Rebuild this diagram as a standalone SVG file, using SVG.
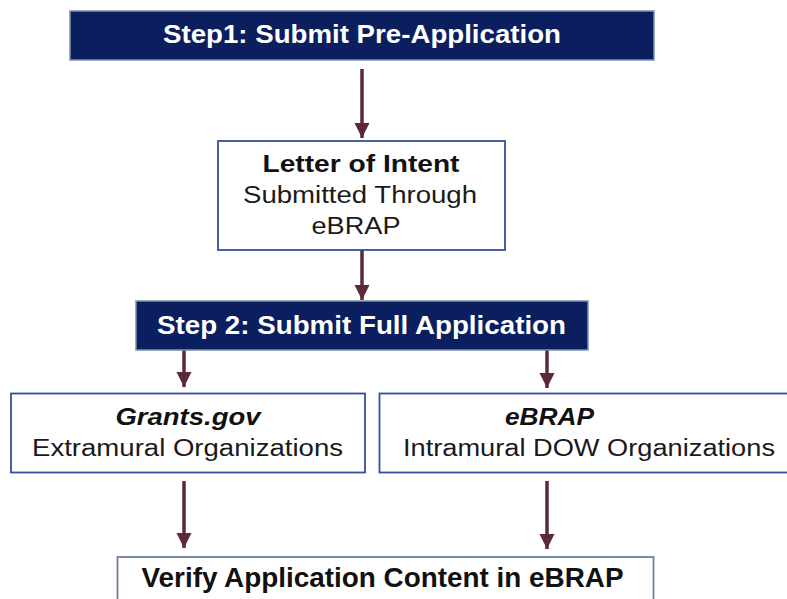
<svg xmlns="http://www.w3.org/2000/svg" width="787" height="599" viewBox="0 0 787 599">
<style>
.step{fill:#0B1F5E;stroke:#8090AA;stroke-width:1.5}
.box{fill:#ffffff;stroke:#35509A;stroke-width:1.8}
.gbox{fill:#ffffff;stroke:#6E7E9C;stroke-width:1.8}
.t{font-family:"Liberation Sans",Arial,sans-serif;text-anchor:middle}
.w{fill:#ffffff;font-weight:bold;font-size:25px}
.b{fill:#111111;font-weight:bold;font-size:23.5px}
.bi{fill:#111111;font-weight:bold;font-style:italic;font-size:23.5px}
.n{fill:#1a1a1a;font-size:23px}
.v{fill:#111111;font-weight:bold;font-size:27px}
.conn line{stroke:#5C2A36;stroke-width:3.5}
</style>
<defs>
<marker id="ah" markerUnits="userSpaceOnUse" markerWidth="16" markerHeight="16" viewBox="0 0 16 16" refX="15" refY="8" orient="auto">
<path d="M0,0.5 L15,8 L0,15.5 z" fill="#5C2A36"/>
</marker>
</defs>
<rect width="787" height="599" fill="#ffffff"/>
<g id="connectors" class="conn">
<line x1="362" y1="69" x2="362" y2="138" marker-end="url(#ah)"/>
<line x1="362" y1="250" x2="362" y2="300" marker-end="url(#ah)"/>
<line x1="184" y1="350" x2="184" y2="387" marker-end="url(#ah)"/>
<line x1="547" y1="350" x2="547" y2="388" marker-end="url(#ah)"/>
<line x1="184" y1="481" x2="184" y2="548" marker-end="url(#ah)"/>
<line x1="547" y1="481" x2="547" y2="549" marker-end="url(#ah)"/>
</g>
<g id="step1">
<rect class="step" x="70" y="11" width="584" height="49"/>
<text class="t w" x="362" y="43" textLength="398" lengthAdjust="spacingAndGlyphs">Step1: Submit Pre-Application</text>
</g>
<g id="letter-of-intent">
<rect class="box" x="218" y="141" width="287" height="109"/>
<text class="t b" x="361" y="171.5" textLength="197" lengthAdjust="spacingAndGlyphs">Letter of Intent</text>
<text class="t n" x="360" y="203" textLength="234" lengthAdjust="spacingAndGlyphs">Submitted Through</text>
<text class="t n" x="356" y="234" textLength="89" lengthAdjust="spacingAndGlyphs">eBRAP</text>
</g>
<g id="step2">
<rect class="step" x="136" y="301" width="452" height="49"/>
<text class="t w" x="361.5" y="333.5" textLength="409" lengthAdjust="spacingAndGlyphs">Step 2: Submit Full Application</text>
</g>
<g id="grants-gov">
<rect class="box" x="11" y="393.5" width="354" height="79"/>
<text class="t bi" x="188" y="425" textLength="145" lengthAdjust="spacingAndGlyphs">Grants.gov</text>
<text class="t n" x="187.5" y="456" textLength="311" lengthAdjust="spacingAndGlyphs">Extramural Organizations</text>
</g>
<g id="ebrap">
<rect class="box" x="379.5" y="393.5" width="420" height="79"/>
<text class="t bi" x="549.5" y="425" textLength="89" lengthAdjust="spacingAndGlyphs">eBRAP</text>
<text class="t n" x="589" y="456" textLength="372" lengthAdjust="spacingAndGlyphs">Intramural DOW Organizations</text>
</g>
<g id="verify">
<rect class="gbox" x="117.5" y="557" width="536" height="60"/>
<text class="t v" x="382.5" y="586.5" textLength="482" lengthAdjust="spacingAndGlyphs">Verify Application Content in eBRAP</text>
</g>
</svg>
